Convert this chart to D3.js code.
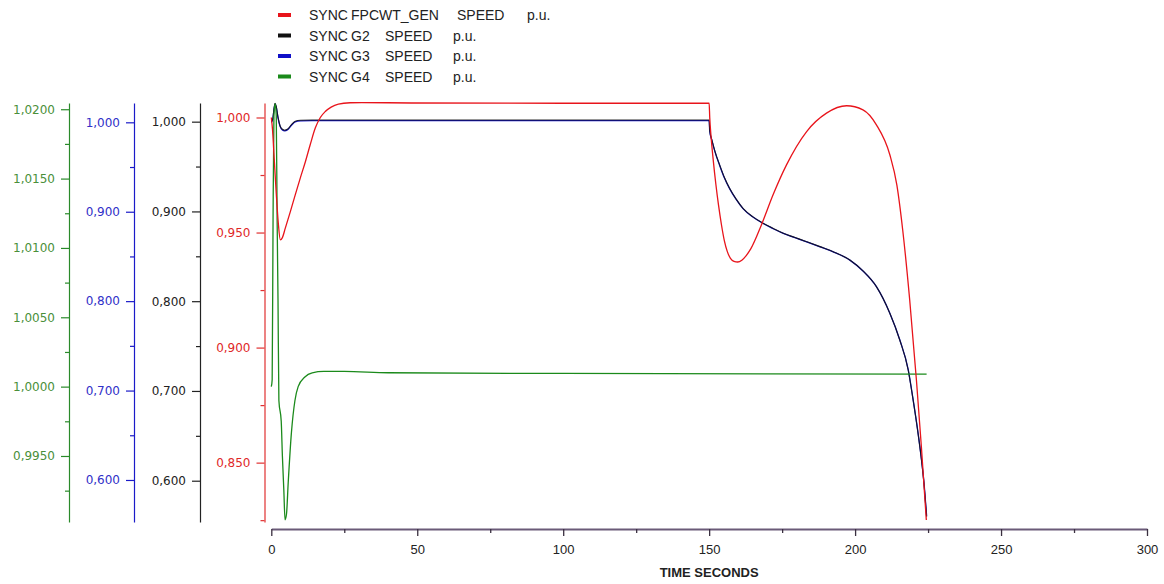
<!DOCTYPE html>
<html>
<head>
<meta charset="utf-8">
<script src="https://cdn.jsdelivr.net/npm/d3@7"></script>
<style>
body { margin: 0; background: #fff; }
svg { display: block; }
.yaxis text { font-family: "DejaVu Sans", sans-serif; font-size: 12px; }
.xaxis text { font-family: "Liberation Sans", Arial, sans-serif; font-size: 13px; fill: #222; }
.legend text { font-family: "Liberation Sans", Arial, sans-serif; font-size: 14px; fill: #222; }
.xtitle { font-family: "Liberation Sans", Arial, sans-serif; font-size: 13px; font-weight: bold; fill: #222; }
</style>
</head>
<body>
<div id="container"></div>
<script>
/* data: [time s, speed p.u.] */
var fpcwtSpeed = [[0,1.000],[0.4,0.995],[1.0,0.982],[1.7,0.967],[2.4,0.954],[3.1,0.9468],[3.8,0.9478],[4.8,0.9519],
    [6.5,0.9590],[8.2,0.9664],[10,0.9740],[11.7,0.9809],[13.4,0.9885],[15.1,0.9955],[16.8,1.0000],[18.5,1.0026],
    [20.5,1.0045],[23,1.0058],[27,1.0064],[31,1.0065],[48,1.0063],[100,1.0062],[150,1.0062],
    [150.2,1.000],[150.7,0.991],[151.4,0.9815],[152.3,0.971],[153.2,0.962],[154.2,0.9535],[155.2,0.9465],
    [156.2,0.9418],[157.3,0.9388],[158.5,0.9375],[159.8,0.9372],[161.2,0.9380],[162.7,0.9400],[164.3,0.9430],
    [167.9,0.9533],[171.9,0.9664],[176.5,0.9794],[183.4,0.9939],[190.2,1.0019],[197.1,1.0051],[202.7,1.0033],
    [207.3,0.9968],[211.9,0.9838],[214.3,0.9707],[216.3,0.9512],[218.7,0.9208],[221.0,0.8860],[222.7,0.8570],
    [224.4,0.8251]];

var g2Speed = [[0,1.000],[0.5,1.003],[0.9,1.014],[1.3,1.0205],[1.7,1.017],[2.3,1.005],[3.0,0.9955],[3.8,0.9915],
    [4.6,0.9905],[5.5,0.9915],[7,0.9970],[8.2,1.0005],[10,1.0015],[14,1.0018],[20,1.0019],[150,1.0019],
    [150.2,0.990],[151,0.979],[152,0.967],[153.6,0.9518],[155.2,0.9380],[157.0,0.9258],[159.2,0.9140],[161.6,0.9035],
    [165,0.8940],[168.5,0.8868],[172,0.8810],[175.4,0.8757],[179.4,0.8710],[183.4,0.8663],[188,0.8608],[192.5,0.8552],
    [198.2,0.8459],[202.7,0.8337],[207.3,0.8162],[211.9,0.7865],[215.3,0.7568],[218.2,0.7233],[219.7,0.6936],
    [221.4,0.6565],[222.6,0.6267],[223.7,0.5933],[224.5,0.5599]];

var g3Speed = [[0,1.000],[0.5,1.003],[0.9,1.014],[1.3,1.0205],[1.7,1.017],[2.3,1.005],[3.0,0.9955],[3.8,0.9915],
    [4.6,0.9905],[5.5,0.9915],[7,0.9970],[8.2,1.0005],[10,1.0015],[14,1.0018],[20,1.0019],[150,1.0019],
    [150.2,0.990],[151,0.979],[152,0.967],[153.6,0.9518],[155.2,0.9380],[157.0,0.9258],[159.2,0.9140],[161.6,0.9035],
    [165,0.8940],[168.5,0.8868],[172,0.8810],[175.4,0.8757],[179.4,0.8710],[183.4,0.8663],[188,0.8608],[192.5,0.8552],
    [198.2,0.8459],[202.7,0.8337],[207.3,0.8162],[211.9,0.7865],[215.3,0.7568],[218.2,0.7233],[219.7,0.6936],
    [221.4,0.6565],[222.6,0.6267],[223.7,0.5933],[224.5,0.5599]];

var g4Speed = [[0,1.0000],[0.3,1.0005],[0.6,1.0120],[0.9,1.0195],[1.3,1.0204],[1.7,1.0195],[2.0,1.0120],[2.3,1.0062],
    [2.6,0.9990],[3.4,0.9975],[3.8,0.9950],[4.3,0.9925],[4.7,0.9904],[5.2,0.9908],[5.8,0.9931],[6.9,0.9967],
    [8.1,0.9990],[9.2,1.0000],[11.5,1.0007],[14,1.0010],[18,1.0011],[25,1.0011],[40,1.0010],[100,1.00095],[224.5,1.0009]];

/* axes */
var timeTicks = [0, 50, 100, 150, 200, 250, 300],
    timeMinor = [25, 75, 125, 175, 225, 275];
var fpcwtDomain = [0.8242, 1.0063], fpcwtTicks = [0.85, 0.90, 0.95, 1.00], fpcwtMinor = [0.825, 0.875, 0.925, 0.975];
var g2Domain = [0.554, 1.0208], g2Ticks = [0.6, 0.7, 0.8, 0.9, 1.0], g2Minor = [0.65, 0.75, 0.85, 0.95];
var g3Domain = [0.553, 1.0216], g3Ticks = [0.6, 0.7, 0.8, 0.9, 1.0], g3Minor = [0.65, 0.75, 0.85, 0.95];
var g4Domain = [0.99024, 1.02045], g4Ticks = [0.995, 1.0, 1.005, 1.01, 1.015, 1.02], g4Minor = [0.9925, 0.9975, 1.0025, 1.0075, 1.0125, 1.0175];

var legendWords = [['SYNC', 'FPCWT_GEN', 'SPEED', 'p.u.'],
                   ['SYNC', 'G2', 'SPEED', 'p.u.'],
                   ['SYNC', 'G3', 'SPEED', 'p.u.'],
                   ['SYNC', 'G4', 'SPEED', 'p.u.']];

var W = 1164, H = 584,
    plotTop = 103, plotBottom = 522, plotLeft = 271.3, plotRight = 1147, xAxisY = 529;

var svg = d3.select('#container').append('svg')
    .attr('width', W)
    .attr('height', H);

var comma = d3.formatLocale({decimal: ',', thousands: '.', grouping: [3], currency: ['', '']});

var xScale = d3.scaleLinear().domain([0, 300]).range([plotLeft, plotRight]);

var series = [
    {data: fpcwtSpeed, color: '#e8141b', axisColor: '#e03030', labelColor: '#e02828', pos: 264.5, domain: fpcwtDomain, ticks: fpcwtTicks, minor: fpcwtMinor, fmt: comma.format('.3f')},
    {data: g2Speed, color: '#111', axisColor: '#222', labelColor: '#222', pos: 200, domain: g2Domain, ticks: g2Ticks, minor: g2Minor, fmt: comma.format('.3f')},
    {data: g3Speed, color: '#1010c8', axisColor: '#1a1ac8', labelColor: '#3030c8', pos: 134, domain: g3Domain, ticks: g3Ticks, minor: g3Minor, fmt: comma.format('.3f')},
    {data: g4Speed, color: '#1b8a1b', axisColor: '#2a8a2a', labelColor: '#4a8f3a', pos: 69, domain: g4Domain, ticks: g4Ticks, minor: g4Minor, fmt: comma.format('.4f')}
];

series.forEach(s => {
    s.y = d3.scaleLinear().domain(s.domain).range([plotBottom, plotTop]);
});

/* y axes, one per signal */
series.forEach(s => {
    var g = svg.append('g').classed('yaxis', true)
        .attr('transform', `translate(${s.pos},0)`);
    g.call(d3.axisLeft(s.y).tickValues(s.ticks).tickFormat(s.fmt).tickSize(8).tickPadding(6).tickSizeOuter(0));
    g.append('g')
        .call(d3.axisLeft(s.y).tickValues(s.minor).tickFormat('').tickSize(4).tickSizeOuter(0))
        .select('.domain').remove();
    g.selectAll('path, line').attr('stroke', s.axisColor).attr('stroke-width', 1.2);
    g.selectAll('text').attr('fill', s.labelColor);
});

/* time axis */
var xg = svg.append('g').classed('xaxis', true)
    .attr('transform', `translate(0,${xAxisY})`);
xg.call(d3.axisBottom(xScale).tickValues(timeTicks).tickFormat(d3.format('d')).tickSize(7).tickPadding(9).tickSizeOuter(0));
xg.append('g')
    .call(d3.axisBottom(xScale).tickValues(timeMinor).tickFormat('').tickSize(4).tickSizeOuter(0))
    .select('.domain').remove();
xg.selectAll('line').attr('stroke', '#3a3040').attr('stroke-width', 1.3);
xg.select('.domain').attr('stroke', '#6a5a78').attr('stroke-width', 2.2);

svg.append('text').classed('xtitle', true)
    .attr('x', (plotLeft + plotRight) / 2)
    .attr('y', 577)
    .attr('text-anchor', 'middle')
    .text('TIME SECONDS');

/* curves: blue under black so the overlap reads navy */
var drawOrder = [2, 1, 3, 0];
drawOrder.forEach(i => {
    var s = series[i];
    var line = d3.line()
        .x(d => xScale(d[0]))
        .y(d => s.y(d[1]))
        .curve(d3.curveMonotoneX);
    svg.append('path')
        .datum(s.data)
        .attr('d', line)
        .attr('fill', 'none')
        .attr('stroke', s.color)
        .attr('stroke-width', i == 1 ? 1.1 : 1.3)
        .attr('stroke-opacity', i == 1 ? 0.88 : 1);
});

/* legend */
var legend = svg.append('g').classed('legend', true);
var rowY = [15, 35.5, 56, 76.5];
var colX = [[0, 42, 148, 218], [0, 42, 76, 144], [0, 42, 76, 144], [0, 42, 76, 144]];
legendWords.forEach((words, i) => {
    legend.append('rect')
        .attr('x', 278).attr('y', rowY[i] - 2)
        .attr('width', 13).attr('height', 4)
        .attr('fill', series[i].color);
    words.forEach((w, j) => {
        legend.append('text')
            .attr('x', 309 + colX[i][j])
            .attr('y', rowY[i] + 5)
            .text(w);
    });
});
</script>
</body>
</html>
